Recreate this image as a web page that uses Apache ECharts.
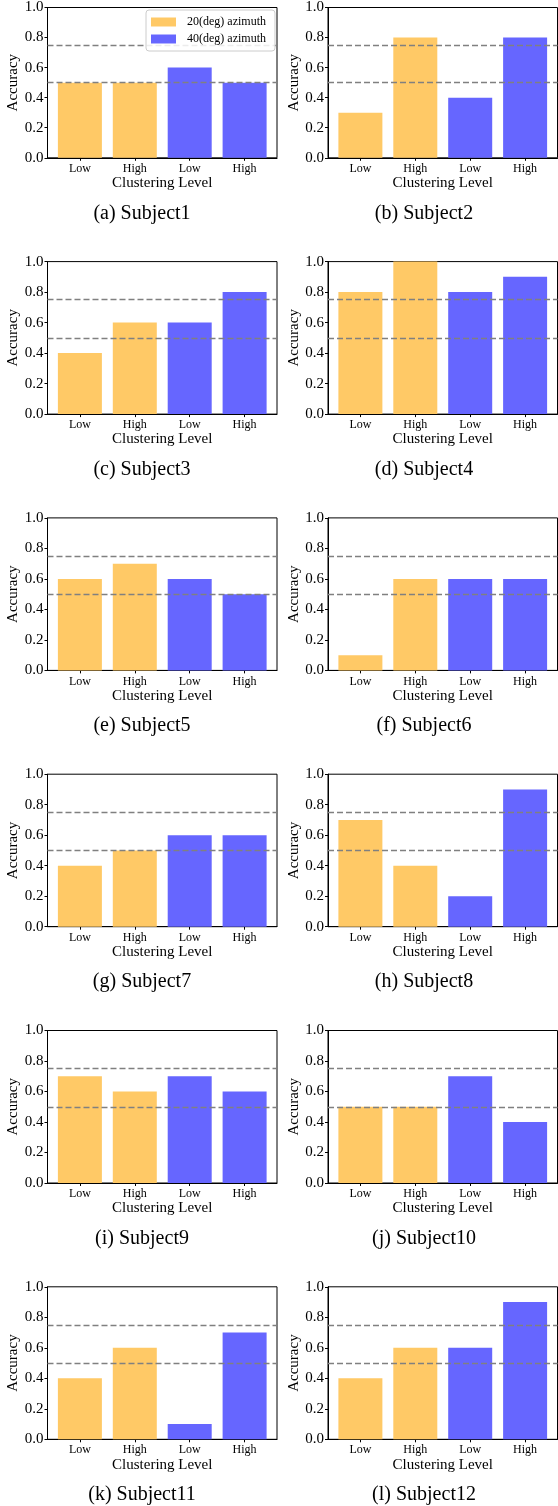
<!DOCTYPE html>
<html><head><meta charset="utf-8">
<script src="https://cdn.jsdelivr.net/npm/echarts@6/dist/echarts.min.js"></script>
<style>html,body{margin:0;padding:0;background:#fff}#c{width:558px;height:1506px}</style>
</head><body><div id="c"></div>
<script>
const subjects = ['Subject1','Subject2','Subject3','Subject4','Subject5','Subject6','Subject7','Subject8','Subject9','Subject10','Subject11','Subject12'];
const captionLetters = ['a','b','c','d','e','f','g','h','i','j','k','l'];
const xTickLabels = ['Low','High','Low','High'];
const seriesNames = ['20(deg) azimuth','40(deg) azimuth'];
const acc20Low  = [0.5,0.3,0.4,0.8,0.6,0.1,0.4,0.7,0.7,0.5,0.4,0.4];
const acc20High = [0.5,0.8,0.6,1.0,0.7,0.6,0.5,0.4,0.6,0.5,0.6,0.6];
const acc40Low  = [0.6,0.4,0.6,0.8,0.6,0.6,0.6,0.2,0.7,0.7,0.1,0.6];
const acc40High = [0.5,0.8,0.8,0.9,0.5,0.6,0.6,0.9,0.6,0.4,0.7,0.9];
const chanceLevels = [0.5, 0.75];
const yTicks = [0, 0.2, 0.4, 0.6, 0.8, 1.0];

const FONT = 'Liberation Serif';
const grids = [], xAxes = [], yAxes = [], series = [], titles = [];
const tickPos = xTickLabels.map((_, k) => k);

for (let i = 0; i < subjects.length; i++) {
  const row = Math.floor(i / 2), col = i % 2;
  const top = 5.3 + 256.3 * row;
  const left = 47.5 + 280.5 * col;
  grids.push({left: left, top: top, width: 229.5, height: 152.5, show: true, borderColor: '#000', borderWidth: 1, containLabel: false});
  xAxes.push({
    gridIndex: i, type: 'value', min: -0.59, max: 3.59,
    splitLine: {show: false},
    axisLine: {show: true, onZero: false, lineStyle: {color: '#000', width: 1}},
    axisTick: {show: true, customValues: tickPos, length: 3, lineStyle: {color: '#000'}},
    axisLabel: {show: true, customValues: tickPos, formatter: v => xTickLabels[Math.round(v)] || '', fontFamily: FONT, fontSize: 12, color: '#000', margin: 5},
    name: 'Clustering Level', nameLocation: 'middle', nameGap: 17,
    nameTextStyle: {fontFamily: FONT, fontSize: 15, color: '#000'}
  });
  yAxes.push({
    gridIndex: i, type: 'value', min: yTicks[0], max: yTicks[yTicks.length - 1], interval: 0.2,
    splitLine: {show: false},
    axisLine: {show: true, onZero: false, lineStyle: {color: '#000', width: 1}},
    axisTick: {show: true, length: 3, lineStyle: {color: '#000'}},
    axisLabel: {formatter: v => v.toFixed(1), fontFamily: FONT, fontSize: 15, color: '#000', margin: 4},
    name: 'Accuracy', nameLocation: 'middle', nameGap: 23,
    nameTextStyle: {fontFamily: FONT, fontSize: 15, color: '#000'}
  });
  const ml = {
    silent: true, symbol: 'none', z: 5, animation: false,
    label: {show: false},
    lineStyle: {type: [6, 3], color: '#808080', width: 1.3},
    data: chanceLevels.map(v => ({yAxis: v}))
  };
  series.push({
    type: 'bar', name: seriesNames[0], xAxisIndex: i, yAxisIndex: i,
    data: [[0, acc20Low[i]], [1, acc20High[i]]],
    barWidth: 44, barGap: '-100%', itemStyle: {color: '#FFC966'}, markLine: ml
  });
  series.push({
    type: 'bar', name: seriesNames[1], xAxisIndex: i, yAxisIndex: i,
    data: [[2, acc40Low[i]], [3, acc40High[i]]],
    barWidth: 44, barGap: '-100%', itemStyle: {color: '#6666FF'}
  });
  titles.push({
    text: '(' + captionLetters[i] + ') ' + subjects[i],
    left: 142 + 282 * col, top: top + 208,
    textAlign: 'center', textVerticalAlign: 'middle', padding: 0,
    textStyle: {fontFamily: FONT, fontSize: 20, fontWeight: 'normal', color: '#000'}
  });
}

const chart = echarts.init(document.getElementById('c'), null, {renderer: 'canvas'});
chart.setOption({
  animation: false,
  backgroundColor: '#fff',
  title: titles,
  legend: {
    orient: 'vertical', left: 146, top: 10, z: 20,
    itemWidth: 25, itemHeight: 9, itemGap: 5, icon: 'rect',
    padding: [6, 9, 6, 5],
    backgroundColor: 'rgba(255,255,255,0.85)', borderColor: '#cccccc', borderWidth: 1, borderRadius: 3,
    textStyle: {fontFamily: FONT, fontSize: 12, color: '#000', padding: [0, 0, 0, 6]},
    data: seriesNames
  },
  grid: grids, xAxis: xAxes, yAxis: yAxes, series: series
});
</script></body></html>
